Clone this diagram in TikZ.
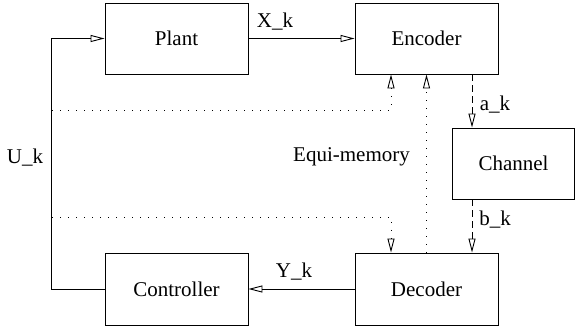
\documentclass[tikz,border=0pt]{standalone}
\usepackage{fontspec}
\setmainfont{Liberation Serif}
\newfontfamily\timesfont{Liberation Serif}
\usetikzlibrary{arrows.meta}
\begin{document}
\begin{tikzpicture}[x=1pt,y=-1pt,
  every node/.style={font=\timesfont\fontsize{21}{25}\selectfont},
  blockbox/.style={draw,line width=0.9pt,minimum width=143pt,minimum height=71pt,inner sep=0pt},
  wire/.style={line width=0.9pt},
  arr/.style={wire,-{Triangle[open,length=14pt,width=7pt]}},
  dotarr/.style={arr,dash pattern=on 1pt off 7pt},
  dasharr/.style={arr,dash pattern=on 7pt off 4pt},
  lbl/.style={inner sep=0pt}]
\useasboundingbox (0,0) rectangle (575,328);
\node[blockbox] (plant) at (176.5,38.5) {Plant};
\node[blockbox] (enc) at (426.5,38.5) {Encoder};
\node[blockbox,minimum width=121.5pt] (chan) at (513.5,163.5) {Channel\hspace{13pt}};
\node[blockbox,minimum height=72pt] (dec) at (426.5,289) {Decoder};
\node[blockbox,minimum height=72pt] (ctrl) at (176.5,289) {Controller};
% labels
\node[lbl] (xk) at (275,22) {X\_k};
\node[lbl] (ak) at (495,105) {a\_k};
\node[lbl] (bk) at (495,220) {b\_k};
\node[lbl] (yk) at (294,272) {Y\_k};
\node[lbl] (uk) at (25,158) {U\_k};
\node[lbl] (eqm) at (351.5,157) {Equi-memory};
% main connectors
\draw[arr] (plant) -- (enc);
\draw[arr] (dec) -- (ctrl);
\coordinate (lt) at (51,38.5);
\coordinate (lb) at (51,289);
\draw[arr] (ctrl.west) -- (lb) -- (lt) -- (plant.west);
% dashed channel links
\draw[dasharr] ([xshift=45.5pt]enc.south) coordinate (ea) -- (ea |- chan.north);
\draw[dasharr] (ea |- chan.south) -- (ea |- dec.north);
% dotted equi-memory
\coordinate (mt) at (52,110);
\coordinate (mb) at (52,217);
\draw[dotarr] (mt) -| ([xshift=-35.5pt]enc.south);
\draw[dotarr] (mb) -| ([xshift=-35.5pt]dec.north);
\draw[dotarr] (dec.north) -- (enc.south);
\end{tikzpicture}
\end{document}
